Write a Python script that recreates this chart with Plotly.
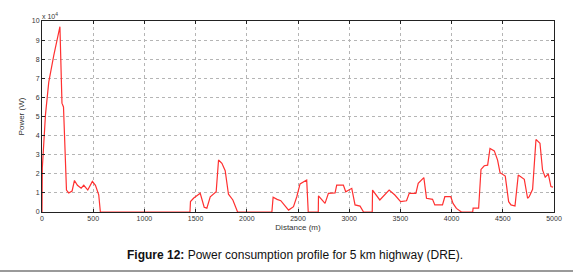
import plotly.graph_objects as go

# Distance (m) and power (x 10^4 W)
distance_m = [0, 3, 34, 66, 115, 141, 175, 195, 210, 239, 261, 294, 317, 346, 382, 408, 447, 492, 522, 554, 570,
              1445, 1450, 1482, 1545, 1584, 1610, 1643, 1701, 1724, 1757, 1789, 1821, 1864, 1903, 1910,
              2245, 2257, 2296, 2332, 2408, 2456, 2488, 2520, 2585, 2600,
              2698, 2700, 2764, 2797, 2862, 2878, 2943, 2966, 3025, 3057, 3106, 3132, 3140,
              3225, 3228, 3299, 3390, 3446, 3502, 3560, 3586, 3651, 3674, 3729, 3755, 3814, 3836, 3911, 3934,
              3992, 4014, 4047, 4096,
              4206, 4210, 4264, 4287, 4319, 4352, 4375, 4417, 4449, 4473, 4524, 4557, 4580, 4619, 4651, 4710,
              4742, 4758, 4791, 4824, 4863, 4888, 4914, 4944, 4970, 4990]
power_1e4_w = [0, 2.3, 5.1, 6.8, 8.2, 8.8, 9.7, 5.7, 5.5, 1.15, 1.0, 1.1, 1.65, 1.4, 1.25, 1.4, 1.15, 1.6, 1.4, 0.9, 0,
               0, 0.55, 0.73, 0.98, 0.25, 0.2, 0.8, 1.06, 2.72, 2.55, 2.16, 0.93, 0.63, 0.05, 0,
               0, 0.77, 0.66, 0.59, 0.1, 0.28, 0.8, 1.47, 1.68, 0,
               0, 0.85, 0.45, 0.98, 1.0, 1.41, 1.41, 1.06, 1.24, 0.37, 0.31, 0.05, 0,
               0, 1.15, 0.63, 1.15, 0.89, 0.54, 0.59, 0.98, 0.98, 1.5, 1.8, 0.72, 0.66, 0.37, 0.37, 0.8,
               0.8, 0.45, 0.19, 0,
               0, 0.2, 0.2, 2.23, 2.42, 2.45, 3.33, 3.2, 2.72, 2.06, 1.88, 0.54, 0.37, 0.31, 1.94, 1.71,
               0.72, 0.8, 1.19, 3.8, 3.6, 2.2, 1.82, 1.99, 1.33, 1.3]

x_ticks = [0, 500, 1000, 1500, 2000, 2500, 3000, 3500, 4000, 4500, 5000]
y_ticks = [0, 1, 2, 3, 4, 5, 6, 7, 8, 9, 10]

FONT = "Liberation Sans, Arial, sans-serif"

fig = go.Figure()
fig.add_trace(go.Scatter(x=distance_m, y=power_1e4_w, mode="lines",
                         line=dict(color="#ff3030", width=1.2), showlegend=False))

axis_common = dict(showline=True, linecolor="#222", linewidth=1, mirror="ticks",
                   ticks="inside", ticklen=3, tickcolor="#222", automargin=False,
                   showgrid=True, gridcolor="#b5b5b5", griddash="dot", gridwidth=1,
                   zeroline=False, tickfont=dict(family=FONT, size=7, color="#333"))

fig.update_xaxes(range=[0, 5000], tickvals=x_ticks, ticktext=[str(v) for v in x_ticks],
                 title=dict(text="Distance (m)", font=dict(family=FONT, size=8, color="#333"), standoff=2),
                 **axis_common)
fig.update_yaxes(range=[0, 10], tickvals=y_ticks, ticktext=[str(v) for v in y_ticks],
                 title=dict(text="Power (W)", font=dict(family=FONT, size=8, color="#333"), standoff=6),
                 **axis_common)

fig.add_annotation(xref="paper", yref="paper", x=0.0, y=1.0, xanchor="left", yanchor="bottom",
                   text="x 10<sup>4</sup>", showarrow=False, yshift=-1, xshift=-2,
                   font=dict(family=FONT, size=7, color="#333"))

fig.add_annotation(xref="paper", yref="paper", x=0.495, y=-0.225, xanchor="center", yanchor="middle",
                   text="<b>Figure 12:</b> Power consumption profile for 5 km highway (DRE).",
                   showarrow=False, font=dict(family=FONT, size=12, color="#111"))

fig.add_shape(type="line", xref="paper", yref="paper", x0=-0.09, x1=1.05, y0=-0.309, y1=-0.309,
              line=dict(color="#9a9a9a", width=2))

fig.update_layout(width=573, height=274, margin=dict(l=41.5, r=19, t=21, b=62, autoexpand=False),
                  paper_bgcolor="white", plot_bgcolor="white")

fig.write_html("out.html", config={"displayModeBar": False},
               post_script="document.body.style.margin='0';document.body.style.overflow='hidden';")
